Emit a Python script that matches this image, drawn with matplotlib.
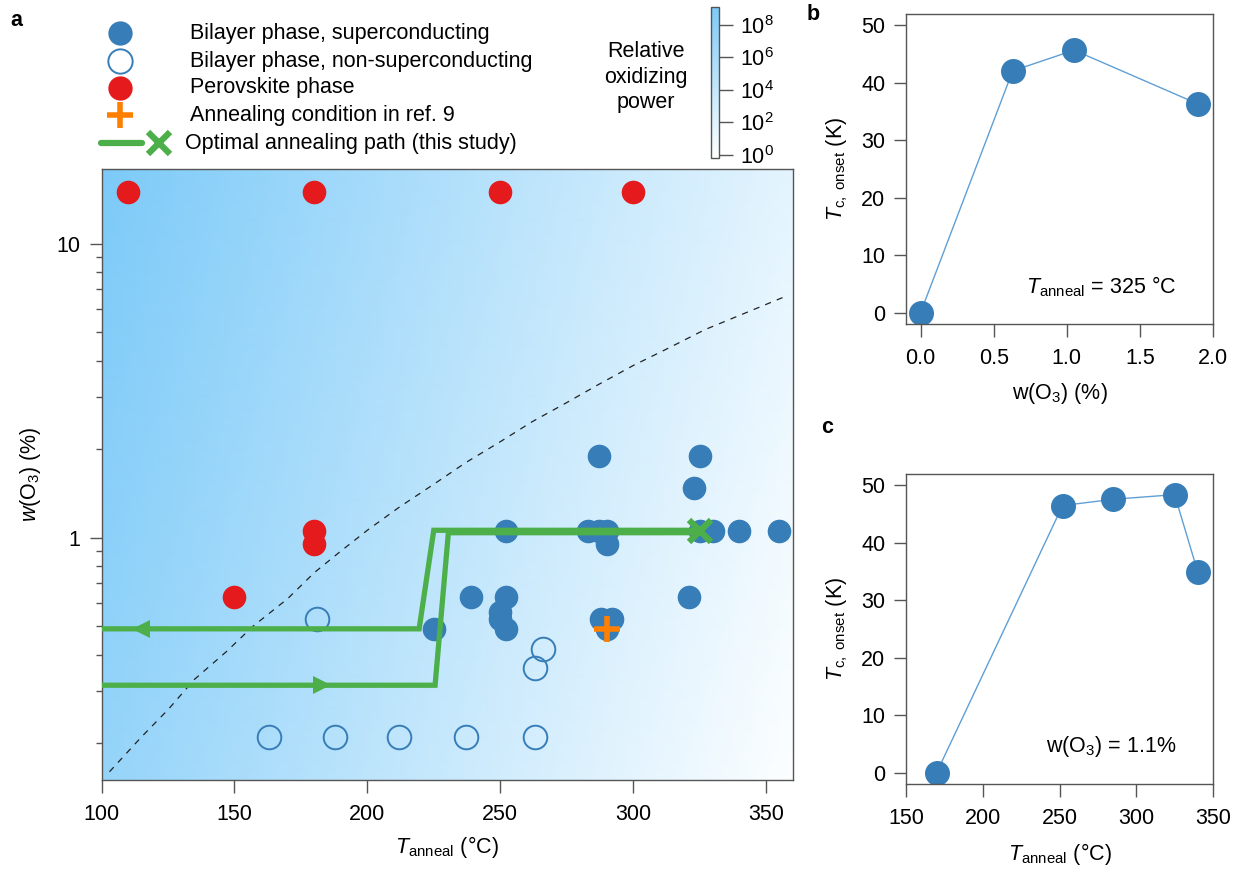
import numpy as np
import matplotlib
matplotlib.use("Agg")
import matplotlib.pyplot as plt
from matplotlib.colors import LinearSegmentedColormap, LogNorm
from matplotlib.ticker import LogLocator, NullFormatter, FixedLocator

plt.rcParams["font.family"] = ["Liberation Sans", "DejaVu Sans"]
plt.rcParams["mathtext.fontset"] = "custom"
plt.rcParams["mathtext.rm"] = "Liberation Sans"
plt.rcParams["mathtext.it"] = "Liberation Sans:italic"
plt.rcParams["mathtext.bf"] = "Liberation Sans:bold"

FS = 15.5
BLUE = "#377eb8"
LINE_BLUE = "#5f9fd6"
RED = "#e41a1c"
ORANGE = "#ff7f00"
GREEN = "#4daf4a"
SPINE = "#555555"

# ---- panel a: phase diagram ----
sc_T = [287, 325, 323, 252, 283, 287, 290, 290, 325, 330, 340, 355,
        239, 252, 321, 250, 250, 252, 225, 288, 292, 290]
sc_w = [1.9, 1.9, 1.48, 1.05, 1.05, 1.05, 1.05, 0.95, 1.05, 1.05, 1.05, 1.05,
        0.63, 0.63, 0.63, 0.56, 0.53, 0.49, 0.49, 0.53, 0.53, 0.49]

nonsc_T = [181, 266, 263, 163, 188, 212, 237, 263]
nonsc_w = [0.53, 0.42, 0.36, 0.21, 0.21, 0.21, 0.21, 0.21]

perov_T = [110, 180, 250, 300, 180, 180, 150]
perov_w = [15, 15, 15, 15, 1.05, 0.95, 0.63]

ref9_T, ref9_w = [290], [0.49]
opt_T, opt_w = [325], [1.05]

path_up_T = [100, 225.5, 230.5, 325]
path_up_w = [0.315, 0.315, 1.04, 1.04]
path_down_T = [325, 225, 219.5, 100]
path_down_w = [1.06, 1.06, 0.49, 0.49]
arrow_right = (183, 0.315)
arrow_left = (115, 0.49)

dash_T = [103, 115, 125, 135, 147, 157, 170, 180, 190, 200, 212, 225, 237,
          250, 262, 275, 287, 300, 313, 327, 342, 357]
dash_w = [0.16, 0.21, 0.26, 0.33, 0.41, 0.50, 0.62, 0.76, 0.90, 1.06, 1.27,
          1.52, 1.80, 2.12, 2.48, 2.88, 3.32, 3.85, 4.4, 5.1, 5.8, 6.6]

# background: relative oxidizing power (log10), linear in log w and T
pow_a, pow_b, pow_c = 0.843, 0.0282, 8.02
pow_lo, pow_hi = -0.2, 9.1

# ---- panel b / c ----
b_w = [0.0, 0.63, 1.05, 1.9]
b_tc = [0.0, 42.1, 45.7, 36.3]
c_T = [170, 252, 285, 325, 340]
c_tc = [0.0, 46.5, 47.6, 48.4, 35.0]

W, H = 1238, 869
fig = plt.figure(figsize=(W / 100, H / 100), dpi=100)


def px_axes(x0, y0, x1, y1):
    return fig.add_axes([x0 / W, 1 - y1 / H, (x1 - x0) / W, (y1 - y0) / H])


def style_axes(ax):
    for s in ax.spines.values():
        s.set_color(SPINE)
        s.set_linewidth(1.0)
    ax.tick_params(which="major", direction="out", length=9, width=1,
                   color=SPINE, labelsize=FS, pad=6)
    ax.tick_params(which="minor", direction="out", length=4.5, width=1,
                   color=SPINE)


cmap = LinearSegmentedColormap.from_list("oxpow", ["#ffffff", "#7ccaf8"])
norm = LogNorm(10 ** pow_lo, 10 ** pow_hi)

ax = px_axes(101.5, 168.6, 792.6, 780)
Tg = np.linspace(100, 360, 60)
wg = np.geomspace(0.15, 18, 60)
TT, WW = np.meshgrid(Tg, wg)
P = 10 ** (pow_a * np.log10(WW) - pow_b * (TT - 100) + pow_c)
ax.pcolormesh(TT, WW, P, cmap=cmap, norm=norm, shading="gouraud",
              rasterized=True, zorder=0)

ax.plot(dash_T, dash_w, ls=(0, (5, 5)), color="#222222", lw=0.9, zorder=1)

ax.plot(nonsc_T, nonsc_w, "o", ms=17, mfc="none", mec=BLUE, mew=1.4,
        ls="none", zorder=2)
ax.plot(sc_T, sc_w, "o", ms=17, color=BLUE, mew=0, ls="none", zorder=2)
ax.plot(perov_T, perov_w, "o", ms=17, color=RED, mew=0, ls="none", zorder=2)

ax.plot(path_up_T, path_up_w, color=GREEN, lw=3.8, zorder=3,
        solid_joinstyle="miter")
ax.plot(path_down_T, path_down_w, color=GREEN, lw=3.8, zorder=3,
        solid_joinstyle="miter")
ax.plot(*arrow_right, marker=">", ms=13, color=GREEN, mew=0, zorder=3)
ax.plot(*arrow_left, marker="<", ms=13, color=GREEN, mew=0, zorder=3)
ax.plot(ref9_T, ref9_w, "+", ms=19, color=ORANGE, mew=4, zorder=4)
ax.plot(opt_T, opt_w, "x", ms=16, color=GREEN, mew=4.5, zorder=4)

ax.set_xlim(100, 360)
ax.set_yscale("log")
ax.set_ylim(0.15, 18)
ax.set_xticks([100, 150, 200, 250, 300, 350])
ax.yaxis.set_major_locator(FixedLocator([1, 10]))
ax.set_yticklabels(["1", "10"])
ax.yaxis.set_minor_locator(LogLocator(base=10, subs=np.arange(2, 10)))
ax.yaxis.set_minor_formatter(NullFormatter())
style_axes(ax)
ax.tick_params(axis="x", pad=8)
ax.set_xlabel("$T_{\\mathrm{anneal}}$ (°C)", fontsize=FS, labelpad=7)
ax.set_ylabel("$w$(O$_3$) (%)", fontsize=FS, labelpad=10)

# colorbar
cax = px_axes(711, 7, 719, 158)
sm = plt.cm.ScalarMappable(norm=norm, cmap=cmap)
cb = fig.colorbar(sm, cax=cax, ticks=[1, 1e2, 1e4, 1e6, 1e8])
cb.outline.set_edgecolor(SPINE)
cb.outline.set_linewidth(1.0)
cax.yaxis.set_minor_locator(FixedLocator([]))
cax.tick_params(length=10, width=1, color=SPINE, labelsize=FS, pad=5)
fig.text(646 / W, 1 - 77 / H, "Relative\noxidizing\npower", ha="center",
         va="center", fontsize=FS, linespacing=1.3)

# legend drawn in pixel space
lg = fig.add_axes([0, 0, 1, 1], zorder=5)
lg.set_xlim(0, W)
lg.set_ylim(H, 0)
lg.axis("off")
rows = [33, 61, 88, 115, 143]
lg.plot(120, rows[0], "o", ms=17.5, color=BLUE, mew=0)
lg.plot(120, rows[1], "o", ms=17.5, mfc="none", mec=BLUE, mew=1.4)
lg.plot(120, rows[2], "o", ms=17.5, color=RED, mew=0)
lg.plot(120, rows[3], "+", ms=19, color=ORANGE, mew=4)
lg.plot([101, 142], [rows[4], rows[4]], color=GREEN, lw=4.5,
        solid_capstyle="round")
lg.plot(159, rows[4], "x", ms=16, color=GREEN, mew=4.5)
labels = ["Bilayer phase, superconducting",
          "Bilayer phase, non-superconducting",
          "Perovskite phase",
          "Annealing condition in ref. 9",
          "Optimal annealing path (this study)"]
for i, (y, t) in enumerate(zip(rows, labels)):
    lg.text(190 if i < 4 else 185, y, t, fontsize=FS, va="center", ha="left")

fig.text(16 / W, 1 - 20 / H, "a", fontsize=FS, fontweight="bold",
         ha="center", va="center")
fig.text(813 / W, 1 - 14 / H, "b", fontsize=FS, fontweight="bold",
         ha="center", va="center")
fig.text(827 / W, 1 - 427 / H, "c", fontsize=FS, fontweight="bold",
         ha="center", va="center")

# panel b
axb = px_axes(906, 14, 1213, 324)
axb.plot(b_w, b_tc, "-", color=LINE_BLUE, lw=1.0, zorder=1)
axb.plot(b_w, b_tc, "o", ms=18, color=BLUE, mew=0, zorder=2)
axb.set_xlim(-0.1, 2.0)
axb.set_ylim(-2, 52)
axb.set_xticks([0.0, 0.5, 1.0, 1.5, 2.0])
axb.set_xticklabels(["0.0", "0.5", "1.0", "1.5", "2.0"])
axb.set_yticks([0, 10, 20, 30, 40, 50])
style_axes(axb)
axb.tick_params(axis="x", pad=8)
axb.set_xlabel("w(O$_3$) (%)", fontsize=FS, labelpad=9)
axb.set_ylabel("$T_{\\mathrm{c,\\ onset}}$ (K)", fontsize=FS, labelpad=8)
axb.text(0.88, 0.12, "$T_{\\mathrm{anneal}}$ = 325 °C", transform=axb.transAxes,
         fontsize=FS, ha="right", va="center")

# panel c
axc = px_axes(906, 474, 1213, 784)
axc.plot(c_T, c_tc, "-", color=LINE_BLUE, lw=1.0, zorder=1)
axc.plot(c_T, c_tc, "o", ms=18, color=BLUE, mew=0, zorder=2)
axc.set_xlim(150, 350)
axc.set_ylim(-2, 52)
axc.set_xticks([150, 200, 250, 300, 350])
axc.set_yticks([0, 10, 20, 30, 40, 50])
style_axes(axc)
axc.tick_params(axis="x", pad=8)
axc.set_xlabel("$T_{\\mathrm{anneal}}$ (°C)", fontsize=FS, labelpad=9)
axc.set_ylabel("$T_{\\mathrm{c,\\ onset}}$ (K)", fontsize=FS, labelpad=8)
axc.text(0.88, 0.12, "w(O$_3$) = 1.1%", transform=axc.transAxes,
         fontsize=FS, ha="right", va="center")

fig.savefig("out.png", dpi=100)
